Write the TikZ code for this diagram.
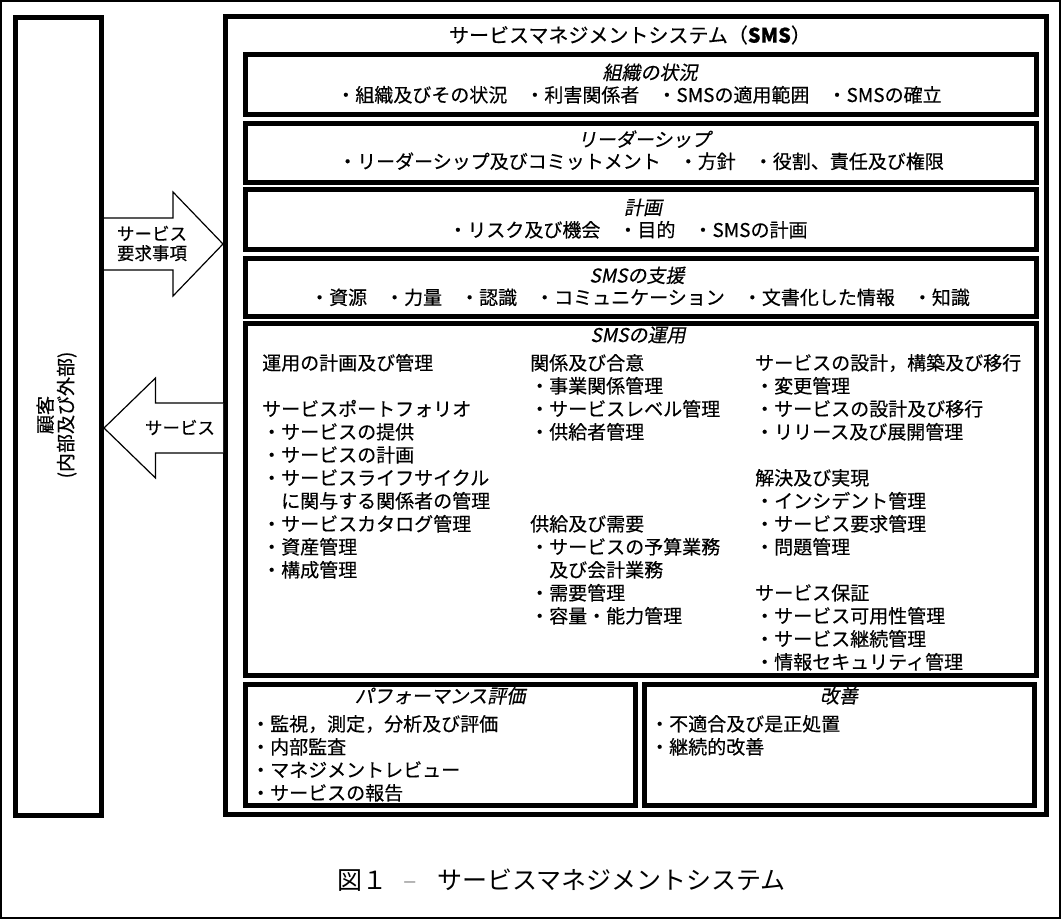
\documentclass[tikz,border=0pt]{standalone}
\usepackage{fontspec}
\setmainfont{Noto Sans CJK JP}
\newfontfamily\bodyjp[FakeBold=0.4]{Noto Sans CJK JP}
\newfontfamily\slantjp[FakeSlant=0.2,FakeBold=0.4]{Noto Sans CJK JP}
\definecolor{ink}{HTML}{000000}
\definecolor{dashgrey}{HTML}{A0A0A0}
\newcommand{\itemgap}{\hspace{0.95em}}
\tikzset{
  panel/.style={draw=ink,line width=5pt,inner sep=0pt},
  blockarrow/.style={draw=ink,line width=1.2pt,fill=white,line join=miter},
  heading/.style={anchor=base,inner sep=0pt,font=\slantjp\fontsize{19}{23}\selectfont,text=ink},
  strip/.style={anchor=base,inner sep=0pt,font=\bodyjp\fontsize{19}{23}\selectfont,text=ink},
  entry/.style={anchor=base west,inner sep=0pt,font=\bodyjp\fontsize{19}{23}\selectfont,text=ink},
  arrowtext/.style={inner sep=0pt,align=left,font=\bodyjp\fontsize{17.5}{19.5}\selectfont,text=ink},
  titletext/.style={anchor=base,inner sep=0pt,font=\bodyjp\fontsize{20}{24}\selectfont,text=ink},
  captext/.style={anchor=base,inner sep=0pt,font=\fontsize{25}{30}\selectfont,text=ink},
}
\begin{document}
\begin{tikzpicture}[x=1pt,y=-1pt]
\useasboundingbox (0,0) rectangle (1061,919);
\draw[ink,line width=2pt] (1,1) rectangle (1060,918);
% boxes
\node[panel,minimum width=86pt,minimum height=798pt] (cust) at (58.5,416.5) {};
\node[panel,minimum width=820.5pt,minimum height=798pt] (sms) at (635.75,415.5) {};
\node[panel,minimum width=791pt,minimum height=60pt] (ctx) at (641,84.5) {};
\node[panel,minimum width=791pt,minimum height=59.5pt] (lead) at (641,152.75) {};
\node[panel,minimum width=791pt,minimum height=60pt] (plan) at (641,219.5) {};
\node[panel,minimum width=791pt,minimum height=58.5pt] (supp) at (641,287.25) {};
\node[panel,minimum width=791pt,minimum height=352.5pt] (oper) at (641,499.25) {};
\node[panel,minimum width=389.5pt,minimum height=121pt] (eval) at (440.25,745) {};
\node[panel,minimum width=390pt,minimum height=121pt] (impr) at (839,745) {};
% arrows
\draw[blockarrow] (cust.east |- 0,218) -- (173,218) -- (173,192) -- (sms.west |- 0,244)
  -- (173,296) -- (173,270) -- (cust.east |- 0,270);
\draw[blockarrow] (sms.west |- 0,403) -- (155.5,403) -- (155.5,378) -- (cust.east |- 0,428)
  -- (155.5,478) -- (155.5,453) -- (sms.west |- 0,453);
\node[arrowtext] (reqlbl) at (152,243.5) {サービス\\要求事項};
\node[arrowtext] (svclbl) at (180,427.5) {サービス};
\node[inner sep=0pt,rotate=90,align=center,font=\bodyjp\fontsize{19}{20.5}\selectfont] (custlbl) at (56.5,415) {顧客\\(内部及び外部)};
% title
\node[titletext] (smstitle) at (630,42.6) {サービスマネジメントシステム（\textbf{SMS}）};
% upper panels
\node[heading] (ctxhead) at (650,79.5) {組織の状況};
\node[strip] (ctxitems) at (639,102) {・組織及びその状況\itemgap・利害関係者\itemgap・SMSの適用範囲\itemgap・SMSの確立};
\node[heading] (leadhead) at (644,146.5) {リーダーシップ};
\node[strip] (leaditems) at (641,168.5) {・リーダーシップ及びコミットメント\itemgap・方針\itemgap・役割、責任及び権限};
\node[heading] (planhead) at (643,214.5) {計画};
\node[strip] (planitems) at (628,237) {・リスク及び機会\itemgap・目的\itemgap・SMSの計画};
\node[heading] (supphead) at (637,282.5) {SMSの支援};
\node[strip] (suppitems) at (640,304.5) {・資源\itemgap・力量\itemgap・認識\itemgap・コミュニケーション\itemgap・文書化した情報\itemgap・知識};
% operation panel
\node[heading] (operhead) at (638,342) {SMSの運用};
\node[entry] (opa1) at (262,370) {運用の計画及び管理};
\node[entry] (opa3) at (262,416) {サービスポートフォリオ};
\node[entry] (opa4) at (262,439) {・サービスの提供};
\node[entry] (opa5) at (262,462) {・サービスの計画};
\node[entry] (opa6) at (262,485) {・サービスライフサイクル};
\node[entry] (opa7) at (262,508) {　に関与する関係者の管理};
\node[entry] (opa8) at (262,531) {・サービスカタログ管理};
\node[entry] (opa9) at (262,554) {・資産管理};
\node[entry] (opa10) at (262,577) {・構成管理};
\node[entry] (opb1) at (530,370) {関係及び合意};
\node[entry] (opb2) at (530,393) {・事業関係管理};
\node[entry] (opb3) at (530,416) {・サービスレベル管理};
\node[entry] (opb4) at (530,439) {・供給者管理};
\node[entry] (opb8) at (530,531) {供給及び需要};
\node[entry] (opb9) at (530,554) {・サービスの予算業務};
\node[entry] (opb10) at (530,577) {　及び会計業務};
\node[entry] (opb11) at (530,600) {・需要管理};
\node[entry] (opb12) at (530,623) {・容量・能力管理};
\node[entry] (opc1) at (755,370) {サービスの設計，構築及び移行};
\node[entry] (opc2) at (755,393) {・変更管理};
\node[entry] (opc3) at (755,416) {・サービスの設計及び移行};
\node[entry] (opc4) at (755,439) {・リリース及び展開管理};
\node[entry] (opc6) at (755,485) {解決及び実現};
\node[entry] (opc7) at (755,508) {・インシデント管理};
\node[entry] (opc8) at (755,531) {・サービス要求管理};
\node[entry] (opc9) at (755,554) {・問題管理};
\node[entry] (opc11) at (755,600) {サービス保証};
\node[entry] (opc12) at (755,623) {・サービス可用性管理};
\node[entry] (opc13) at (755,646) {・サービス継続管理};
\node[entry] (opc14) at (755,669) {・情報セキュリティ管理};
% lower panels
\node[heading] (evalhead) at (440,703) {パフォーマンス評価};
\node[entry] (ev1) at (251,731) {・監視，測定，分析及び評価};
\node[entry] (ev2) at (251,754) {・内部監査};
\node[entry] (ev3) at (251,777) {・マネジメントレビュー};
\node[entry] (ev4) at (251,800) {・サービスの報告};
\node[heading] (imprhead) at (839,703) {改善};
\node[entry] (im1) at (650,731) {・不適合及び是正処置};
\node[entry] (im2) at (650,754) {・継続的改善};
% caption
\node[captext] (cap) at (561.5,889.5) {図１\hspace{0.65em}\textcolor{dashgrey}{–}\hspace{0.8em}サービスマネジメントシステム};
\end{tikzpicture}
\end{document}
